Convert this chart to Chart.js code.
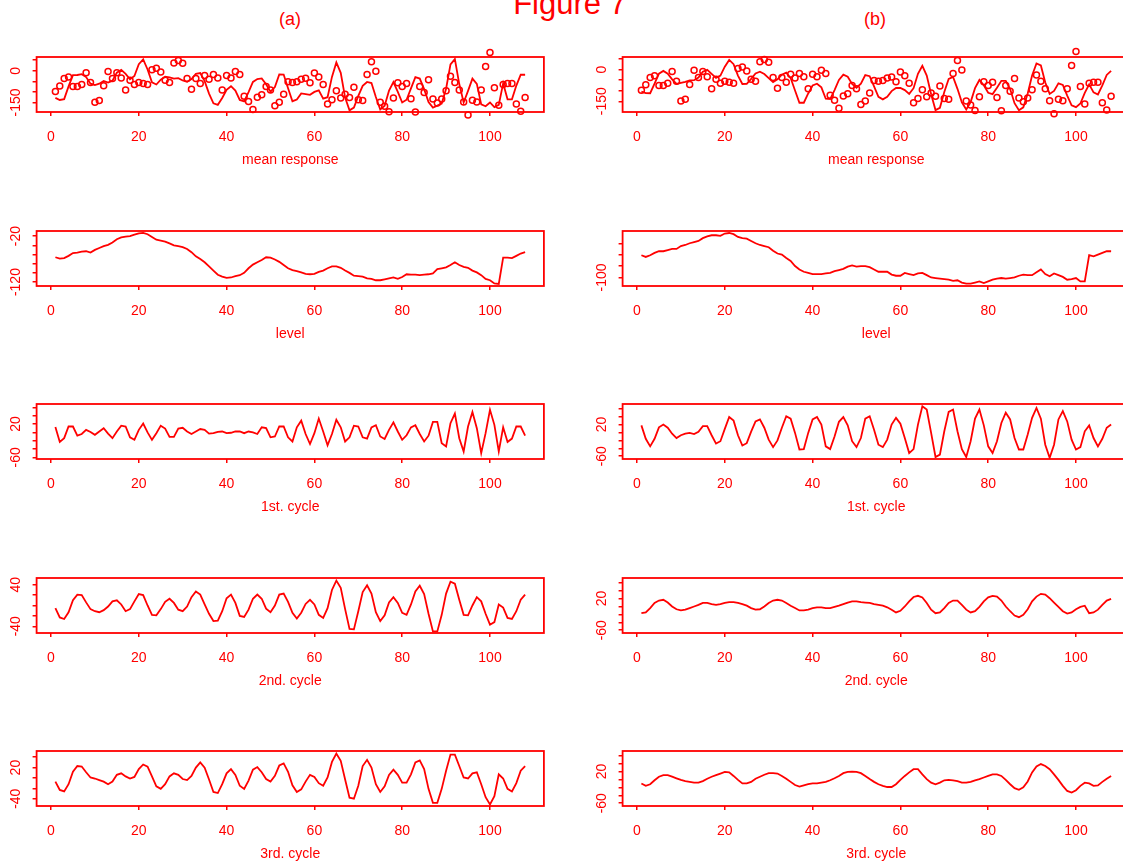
<!DOCTYPE html>
<html><head><meta charset="utf-8">
<script src="https://cdn.jsdelivr.net/npm/chart.js@4.4.0/dist/chart.umd.min.js"></script>
<style>
html,body{margin:0;padding:0;background:#fff;overflow:hidden;width:1123px;height:868px;}
body{position:relative;font-family:"Liberation Sans",Arial,sans-serif;}
canvas{position:absolute;}
.t{position:absolute;color:#ff0000;text-align:center;white-space:nowrap;font-family:"Liberation Sans",Arial,sans-serif;}
</style></head><body>
<div class="t" style="left:420px;width:300px;top:-13px;font-size:31px;line-height:34px;">Figure 7</div>
<div class="t" style="left:240px;width:100px;top:8px;font-size:18px;line-height:22px;">(a)</div>
<div class="t" style="left:825px;width:100px;top:8px;font-size:18px;line-height:22px;">(b)</div>
<script>
const time = [1,2,3,4,5,6,7,8,9,10,11,12,13,14,15,16,17,18,19,20,21,22,23,24,25,26,27,28,29,30,31,32,33,34,35,36,37,38,39,40,41,42,43,44,45,46,47,48,49,50,51,52,53,54,55,56,57,58,59,60,61,62,63,64,65,66,67,68,69,70,71,72,73,74,75,76,77,78,79,80,81,82,83,84,85,86,87,88,89,90,91,92,93,94,95,96,97,98,99,100,101,102,103,104,105,106,107,108];
const xTickValues = [0,20,40,60,80,100];

const observed = [-98,-72,-37,-29,-75,-75,-65,-9,-55,-149,-141,-71,-3,-37,-9,-34,-91,-45,-65,-55,-60,-65,5,12,-6,-45,-55,37,48,35,-37,-88,-37,-60,-22,-40,-18,-34,-91,-22,-34,-3,-18,-121,-145,-183,-125,-114,-75,-91,-165,-149,-111,-52,-55,-52,-40,-35,-57,-11,-29,-65,-157,-137,-95,-129,-111,-126,-78,-137,-141,-18,43,-2,-149,-168,-194,-129,-57,-75,-60,-132,-195,-75,-103,-42,-134,-152,-134,-95,-26,-55,-91,-148,-209,-140,-148,-91,20,86,-80,-163,-65,-60,-60,-157,-191,-126];

const meanA = [-128,-138,-134,-74,-21,-20,-16,-30,-61,-68,-61,-48,-56,-47,-9,4,-15,-40,-25,31,54,6,-55,-65,-42,-28,-31,-37,-35,-46,-52,-39,-15,-11,-49,-108,-154,-161,-129,-90,-73,-94,-138,-145,-101,-53,-39,-36,-64,-99,-77,-17,-18,-83,-144,-136,-107,-110,-114,-100,-93,-132,-125,-29,39,-10,-127,-187,-174,-119,-71,-53,-58,-124,-183,-165,-94,-54,-100,-150,-137,-83,-30,-37,-87,-148,-174,-165,-155,-85,30,55,-63,-150,-95,-37,-62,-159,-168,-150,-172,-161,-60,-135,-135,-70,-19,-19];
const levelA = [-66,-69,-68,-63,-57,-56,-54,-53,-56,-50,-46,-42,-39,-34,-27,-23,-21,-20,-17,-14,-13,-16,-22,-28,-30,-32,-36,-40,-42,-44,-48,-55,-64,-70,-77,-86,-95,-104,-108,-111,-110,-107,-105,-100,-90,-82,-77,-72,-66,-67,-71,-76,-83,-90,-94,-96,-99,-102,-103,-102,-98,-95,-90,-86,-86,-89,-95,-100,-106,-107,-108,-112,-113,-116,-116,-114,-112,-110,-113,-109,-103,-104,-104,-105,-104,-103,-101,-92,-90,-88,-83,-77,-83,-87,-89,-95,-99,-105,-113,-116,-123,-124,-67,-67,-68,-63,-58,-55];
const cycle1A = [13,-23,-14,14,14,-8,-4,6,1,-6,2,10,-3,-14,2,16,14,-12,-18,6,21,0,-18,-2,16,9,-11,-11,9,11,2,-4,2,8,6,-3,-2,1,2,-2,-1,2,2,-2,2,0,-4,12,10,-12,-10,14,14,-12,-22,12,28,-4,-28,-2,33,2,-31,-4,30,12,-22,-12,16,14,-12,-15,12,17,-10,-16,6,24,2,-18,-7,12,17,-4,-22,-8,25,25,-26,-34,22,45,-14,-46,14,49,10,-50,-2,54,18,-46,12,-23,-15,14,14,-8];
const cycle2A = [-5,-23,-26,-13,10,21,20,6,-7,-11,-13,-9,-2,8,10,2,-11,-7,8,22,20,0,-18,-19,-7,7,13,5,-8,-11,-2,16,27,21,2,-16,-30,-29,-11,14,21,5,-20,-22,-8,13,21,13,-6,-13,0,21,23,7,-14,-25,-14,3,11,2,-18,-24,-5,30,48,34,-7,-45,-46,-11,26,39,23,-13,-30,-19,6,16,5,-14,-18,2,27,38,22,-16,-50,-50,-18,23,46,42,11,-18,-19,0,16,8,-16,-37,-32,2,-4,-24,-26,-11,11,21];
const cycle3A = [-7,-23,-26,-12,12,23,22,11,1,-1,-4,-7,-12,-7,6,9,3,-1,2,17,26,22,3,-16,-21,-12,3,9,6,-2,-4,4,20,30,20,-3,-27,-29,-12,9,17,6,-15,-21,-5,16,21,11,-2,-7,4,24,28,12,-14,-27,-22,-7,6,2,-10,-15,1,31,47,33,-3,-38,-40,-15,23,35,20,-12,-27,-16,6,16,6,-9,-9,7,30,34,17,-21,-48,-48,-21,14,45,45,23,1,-1,9,11,-12,-37,-51,-35,7,-1,-21,-26,-10,14,23];

const meanB = [-104,-111,-112,-66,-19,-6,-19,-46,-68,-63,-58,-51,-50,-38,-10,-1,-20,-39,-28,14,46,26,-28,-68,-67,-44,-18,-10,-21,-40,-59,-46,-24,-14,-40,-99,-157,-157,-113,-75,-67,-84,-138,-140,-97,-49,-24,-34,-68,-86,-67,-26,-31,-79,-129,-141,-129,-102,-87,-87,-97,-115,-88,-20,18,-28,-117,-192,-181,-106,-44,-35,-91,-155,-189,-154,-88,-49,-74,-110,-116,-86,-53,-53,-92,-159,-193,-179,-113,-28,29,20,-61,-115,-101,-65,-73,-123,-169,-178,-161,-110,-70,-108,-118,-75,-25,-6];
const levelB = [-61,-64,-61,-57,-54,-54,-52,-50,-50,-45,-43,-40,-38,-36,-31,-28,-26,-26,-27,-23,-22,-24,-29,-31,-32,-36,-40,-43,-45,-47,-53,-58,-60,-66,-71,-80,-86,-90,-92,-94,-94,-94,-93,-92,-89,-87,-85,-81,-79,-81,-80,-80,-82,-86,-90,-90,-90,-95,-97,-97,-92,-94,-96,-93,-92,-96,-100,-101,-102,-103,-104,-106,-105,-109,-111,-111,-109,-107,-110,-107,-104,-102,-101,-102,-101,-100,-97,-95,-96,-96,-91,-86,-94,-98,-93,-96,-99,-104,-103,-101,-107,-107,-61,-63,-60,-57,-54,-54];
const cycle1B = [18,-16,-35,-16,13,20,12,-3,-14,-7,-3,-1,-4,2,16,16,-7,-28,-22,9,39,30,-7,-33,-27,2,28,33,12,-18,-37,-20,12,41,35,-1,-43,-42,-1,33,39,20,-35,-42,-10,27,39,18,-22,-37,-14,35,41,7,-31,-37,-18,20,37,22,-14,-52,-42,20,66,58,-1,-62,-56,3,52,58,3,-42,-62,-22,35,58,18,-35,-52,-22,24,50,33,-14,-43,-43,-5,37,62,35,-31,-64,-31,33,54,28,-18,-43,-37,3,18,-14,-35,-16,12,20];
const cycle2B = [-17,-15,-4,9,15,17,10,0,-7,-10,-8,-4,0,4,9,9,6,4,6,9,11,11,9,6,2,-4,-8,-7,0,9,15,17,15,9,2,-4,-10,-10,-8,-4,-2,-2,-4,-4,-1,2,6,10,13,13,11,10,9,6,4,2,-2,-8,-15,-11,0,13,24,27,23,9,-8,-17,-15,-4,9,15,15,4,-8,-15,-12,-1,13,23,27,25,15,0,-12,-23,-27,-21,-7,13,25,32,30,21,10,-1,-12,-18,-15,-7,-1,2,-17,-15,-8,4,15,19];
const cycle3B = [-10,-16,-12,-2,7,11,11,7,3,-1,-4,-6,-8,-8,-4,2,7,11,15,19,18,9,-1,-10,-10,-6,2,7,12,16,16,15,9,2,-6,-14,-18,-15,-12,-10,-10,-8,-6,-2,3,9,16,19,20,19,16,9,1,-6,-12,-16,-19,-19,-12,-1,9,18,26,26,13,1,-8,-12,-8,-2,-1,-2,-4,-8,-8,-6,-2,1,5,9,13,13,9,-1,-12,-22,-26,-20,-5,18,33,39,34,26,13,-1,-16,-29,-33,-27,-16,-8,-10,-16,-15,-6,2,9];

const panelTitles = ['mean response','level','1st. cycle','2nd. cycle','3rd. cycle'];
const yTicksA = [[50,0,-50,-100,-150],[-20,-40,-60,-80,-100,-120],[60,40,20,0,-20,-40,-60],[40,20,0,-20,-40],[40,20,0,-20,-40]];
const yLabelsA = [[0,-150],[-20,-120],[20,-60],[40,-40],[20,-40]];
const yRangeA = [[-195,65],[-128.5,-9],[-64,68],[-53,53],[-54,52]];
const yTicksB = [[50,0,-50,-100,-150],[-40,-60,-80,-100],[60,40,20,0,-20,-40,-60],[60,40,20,0,-20,-40,-60],[60,40,20,0,-20,-40,-60]];
const yLabelsB = [[0,-150],[-100],[20,-60],[20,-60],[20,-60]];
const yRangeB = [[-201,60],[-115,-18.5],[-67,72],[-67,72],[-67,72]];

const seriesA = [meanA, levelA, cycle1A, cycle2A, cycle3A];
const seriesB = [meanB, levelB, cycle1B, cycle2B, cycle3B];

// ---- layout / style ----
const RED = '#ff0000';
const FONT = '14px "Liberation Sans", Arial, sans-serif';
const rowTops = [57, 231, 404, 578, 751];
const columns = [
  {left: 0,   width: 560, yW: 36.6, padR: 16.1, series: seriesA, ticks: yTicksA, labels: yLabelsA, ranges: yRangeA},
  {left: 580, width: 560, yW: 42.6, padR: 10.1, series: seriesB, ticks: yTicksB, labels: yLabelsB, ranges: yRangeB}
];
const PAD_TOP = 15, BOX_H = 55, X_H = 60;

const pts = arr => arr.map((v, i) => ({x: time[i], y: v}));

function deco(xTitle, yLabels) {
  return {
    id: 'deco',
    afterDraw(chart) {
      const ctx = chart.ctx, a = chart.chartArea, xs = chart.scales.x, ys = chart.scales.y;
      ctx.save();
      ctx.strokeStyle = RED; ctx.lineWidth = 1.8;
      ctx.strokeRect(a.left, a.top, a.right - a.left, a.bottom - a.top);
      ctx.fillStyle = RED; ctx.font = FONT;
      ctx.textAlign = 'center'; ctx.textBaseline = 'middle';
      xTickValues.forEach(v => ctx.fillText(String(v), xs.getPixelForValue(v), a.bottom + 25));
      ctx.fillText(xTitle, (a.left + a.right) / 2, a.bottom + 48);
      yLabels.forEach(v => {
        const py = ys.getPixelForValue(v);
        ctx.save(); ctx.translate(a.left - 20, py); ctx.rotate(-Math.PI / 2);
        ctx.fillText(String(v), 0, 0); ctx.restore();
      });
      ctx.restore();
    }
  };
}

columns.forEach(col => {
  rowTops.forEach((top, r) => {
    const cv = document.createElement('canvas');
    const H = PAD_TOP + BOX_H + X_H;
    cv.width = col.width; cv.height = H;
    cv.style.left = col.left + 'px'; cv.style.top = (top - PAD_TOP) + 'px';
    cv.style.width = col.width + 'px'; cv.style.height = H + 'px';
    document.body.appendChild(cv);
    const datasets = [{
      data: pts(col.series[r]), showLine: true, borderColor: RED, borderWidth: 1.8,
      pointRadius: 0, fill: false, tension: 0
    }];
    if (r === 0) {
      datasets.push({
        data: pts(observed), showLine: false, pointRadius: 3, pointBorderWidth: 1.5,
        pointBorderColor: RED, pointBackgroundColor: 'rgba(0,0,0,0)', clip: false
      });
    }
    const gridOpt = {display: true, drawOnChartArea: false, drawTicks: true, tickLength: 4, color: RED, lineWidth: 1.5};
    new Chart(cv, {
      type: 'scatter',
      data: {datasets},
      options: {
        responsive: false, animation: false, events: [],
        layout: {padding: {top: PAD_TOP, left: 0, right: col.padR, bottom: 0}},
        plugins: {legend: {display: false}, tooltip: {enabled: false}},
        scales: {
          x: {type: 'linear', position: 'bottom', min: -3.28, max: 112.28,
              afterBuildTicks: s => { s.ticks = xTickValues.map(v => ({value: v})); },
              afterFit: s => { s.height = X_H; },
              ticks: {display: false}, grid: gridOpt, border: {display: false}},
          y: {type: 'linear', position: 'left', min: col.ranges[r][0], max: col.ranges[r][1],
              afterBuildTicks: s => { s.ticks = col.ticks[r].map(v => ({value: v})); },
              afterFit: s => { s.width = col.yW; },
              ticks: {display: false}, grid: gridOpt, border: {display: false}}
        }
      },
      plugins: [deco(panelTitles[r], col.labels[r])]
    });
  });
});
</script>
</body></html>
